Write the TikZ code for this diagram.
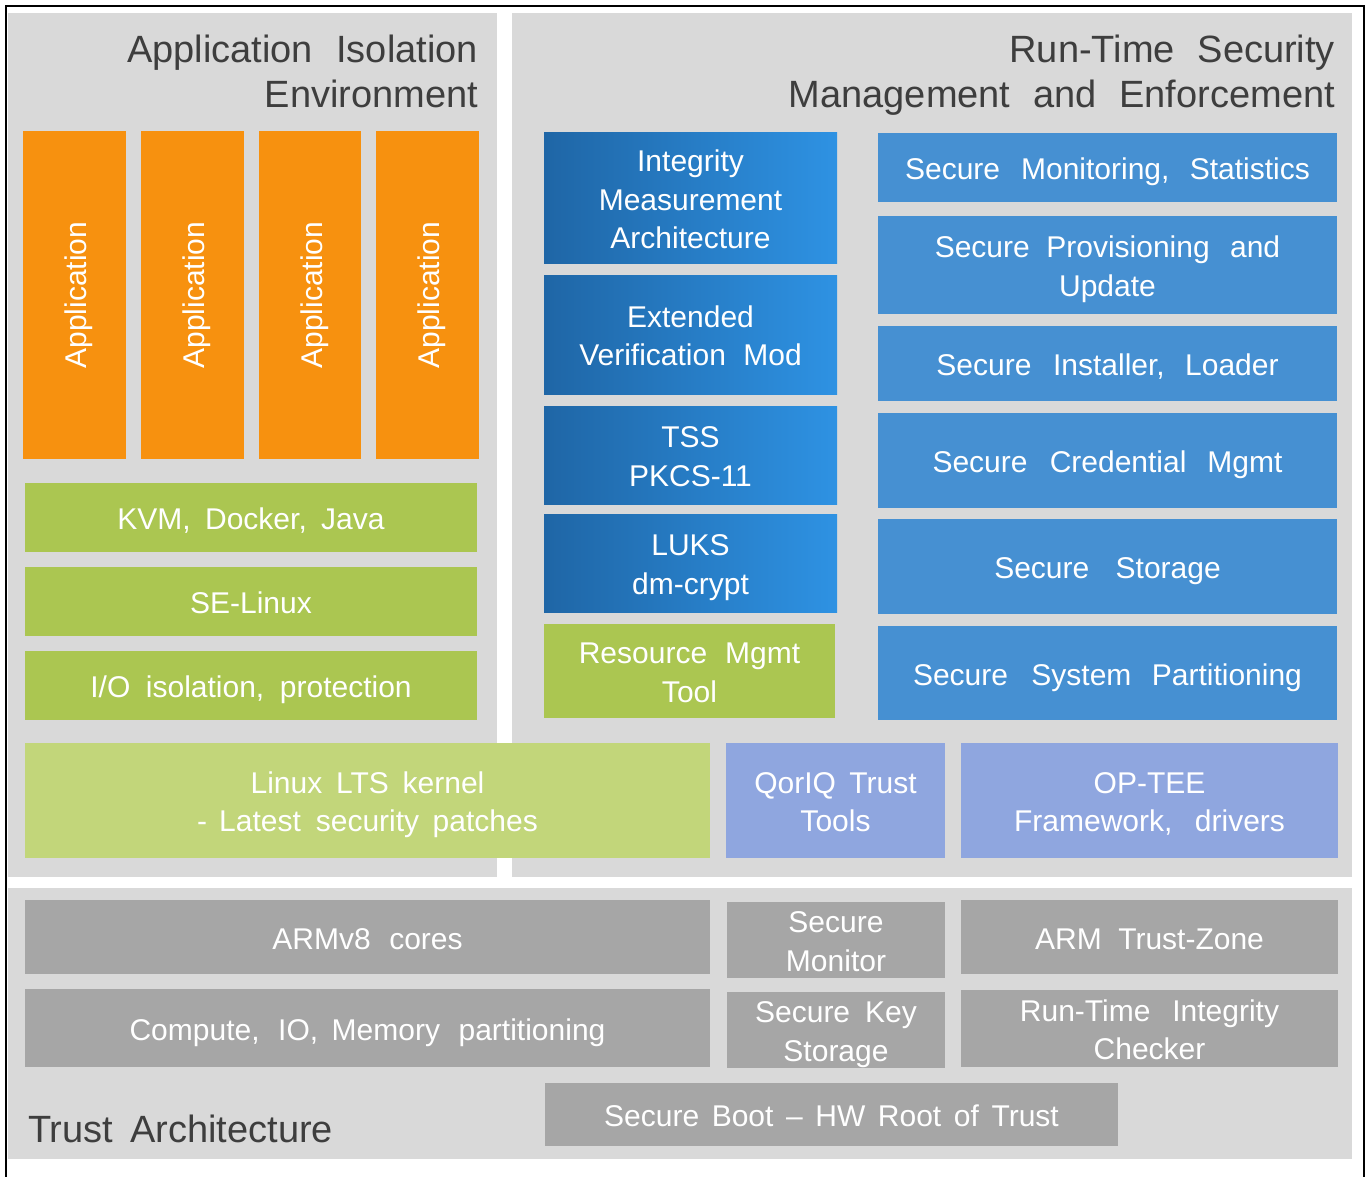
\documentclass[tikz,border=0pt]{standalone}
\usepackage{fontspec}
\setmainfont{Liberation Sans}
\definecolor{panelgray}{HTML}{D9D9D9}
\definecolor{appor}{HTML}{F7910F}
\definecolor{grn}{HTML}{ABC651}
\definecolor{lgrn}{HTML}{C2D67A}
\definecolor{blu}{HTML}{4690D2}
\definecolor{gradL}{HTML}{1F66A6}
\definecolor{gradR}{HTML}{2E92E3}
\definecolor{lav}{HTML}{8FA6DF}
\definecolor{gbox}{HTML}{A6A6A6}
\definecolor{titlec}{HTML}{3E3E3E}
\newcommand\boxfont{\fontsize{30}{38.5}\selectfont}
\newcommand\ttlfont{\fontsize{38}{45.5}\selectfont}
\newcommand\sk[1]{\hspace{#1em}}
\newcommand\topstrut{\rule{0pt}{30.5pt}}
\newcommand\bx[7]{%
  \pgfmathsetmacro\bw{#5-#3}%
  \pgfmathsetmacro\bh{#6-#4}%
  \node[#2, minimum width=\bw pt, minimum height=\bh pt, anchor=north west] (#1) at (#3,#4) {\topstrut#7};%
}
\newcommand\appbx[5]{%
  \pgfmathsetmacro\bw{#4-#2}%
  \pgfmathsetmacro\bh{#5-#3}%
  \pgfmathsetmacro\cx{(#2+#4)/2}%
  \pgfmathsetmacro\cy{(#3+#5)/2}%
  \node[box, fill=appor, rotate=90, minimum width=\bh pt, minimum height=\bw pt] (#1) at (\cx,\cy) {\topstrut Application};%
}
\begin{document}
\begin{tikzpicture}[x=1pt,y=-1pt,
  panel/.style={fill=panelgray, inner sep=0pt, outer sep=0pt},
  box/.style={inner sep=0pt, outer sep=0pt, text=white, align=center, font=\boxfont,
    execute at end node={\rule[-6.5pt]{0pt}{6.5pt}}},
  ttl/.style={inner sep=0pt, outer sep=0pt, text=titlec, font=\ttlfont},
  bluebox/.style={box, fill=blu},
  gradbox/.style={box, left color=gradL, right color=gradR},
  grnbox/.style={box, fill=grn},
  lavbox/.style={box, fill=lav},
  graybox/.style={box, fill=gbox}
]
\useasboundingbox (0,0) rectangle (1367,1177);
\fill[white] (0,0) rectangle (1367,1177);
% panels
\bx{leftpanel}{panel}{8}{13}{497}{877}{}
\bx{rightpanel}{panel}{512}{13}{1352}{877}{}
\bx{bottompanel}{panel}{8}{888}{1352}{1159}{}
% frame
\draw[line width=2.4pt, black] (6,1177) -- (6,6) -- (1364,6) -- (1364,1177);
% titles (anchor = baseline of last line)
\node[ttl, anchor=base east, align=right] (titleA) at (478,108) {Application\sk{0.62}Isolation\\Environment};
\node[ttl, anchor=base east, align=right] (titleB) at (1335,108) {Run-Time\sk{0.6}Security\\Management\sk{0.6}and\sk{0.6}Enforcement};
\node[ttl, anchor=base west] (titleC) at (28,1142) {Trust\sk{0.45}Architecture};
% applications
\appbx{app1}{23}{131}{126}{459}
\appbx{app2}{141}{131}{244}{459}
\appbx{app3}{259}{131}{361}{459}
\appbx{app4}{376}{131}{479}{459}
% left green stack
\bx{kvm}{grnbox}{25}{483}{477}{552}{KVM,\sk{0.48}Docker,\sk{0.48}Java}
\bx{selinux}{grnbox}{25}{567}{477}{636}{SE-Linux}
\bx{io}{grnbox}{25}{651}{477}{720}{I/O\sk{0.52}isolation,\sk{0.52}protection}
% gradient stack
\bx{ima}{gradbox}{544}{133}{837}{263}{Integrity\\Measurement\\Architecture}
\bx{evm}{gradbox}{544}{275}{837}{394}{Extended\\Verification\sk{0.58}Mod}
\bx{tss}{gradbox}{544}{406}{837}{504}{TSS\\PKCS-11}
\bx{luks}{gradbox}{544}{514}{837}{612}{LUKS\\dm-crypt}
\bx{rmt}{grnbox}{544}{624}{835}{718}{Resource\sk{0.6}Mgmt\\Tool}
% right blue stack
\bx{smon}{bluebox}{878}{133}{1337}{202}{Secure\sk{0.7}Monitoring,\sk{0.68}Statistics}
\bx{sprov}{bluebox}{878}{216}{1337}{314}{Secure\sk{0.55}Provisioning\sk{0.68}and\\Update}
\bx{sinst}{bluebox}{878}{326}{1337}{401}{Secure\sk{0.72}Installer,\sk{0.68}Loader}
\bx{scred}{bluebox}{878}{413}{1337}{508}{Secure\sk{0.74}Credential\sk{0.7}Mgmt}
\bx{sstor}{bluebox}{878}{519}{1337}{614}{Secure\sk{0.88}Storage}
\bx{spart}{bluebox}{878}{626}{1337}{720}{Secure\sk{0.78}System\sk{0.68}Partitioning}
% kernel row
\bx{linux}{box, fill=lgrn}{25}{743}{710}{858}{Linux\sk{0.46}LTS\sk{0.46}kernel\\-\sk{0.4}Latest\sk{0.5}security\sk{0.45}patches}
\bx{qoriq}{lavbox}{726}{743}{945}{858}{QorIQ\sk{0.45}Trust\\Tools}
\bx{optee}{lavbox}{961}{743}{1338}{858}{OP-TEE\\Framework,\sk{0.75}drivers}
% hardware
\bx{armv8}{graybox}{25}{900}{710}{974}{ARMv8\sk{0.62}cores}
\bx{secmon}{graybox}{727}{902}{945}{976}{Secure\\Monitor}
\bx{tzone}{graybox}{961}{900}{1338}{974}{ARM\sk{0.55}Trust-Zone}
\bx{compute}{graybox}{25}{989}{710}{1067}{Compute,\sk{0.62}IO,\sk{0.45}Memory\sk{0.62}partitioning}
\bx{skey}{graybox}{727}{992}{945}{1065}{Secure\sk{0.5}Key\\Storage}
\bx{rtic}{graybox}{961}{990}{1338}{1067}{Run-Time\sk{0.73}Integrity\\Checker}
\bx{sboot}{graybox}{545}{1083}{1118}{1146}{Secure\sk{0.42}Boot\sk{0.42}–\sk{0.42}HW\sk{0.42}Root\sk{0.42}of\sk{0.42}Trust}
\end{tikzpicture}
\end{document}
